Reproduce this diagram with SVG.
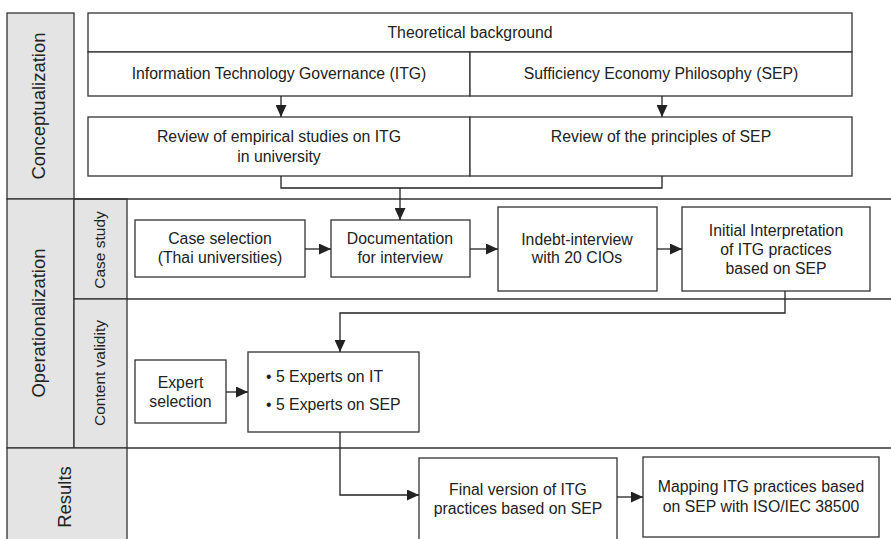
<svg xmlns="http://www.w3.org/2000/svg" width="891" height="539" viewBox="0 0 891 539">
<defs>
<marker id="ah" viewBox="0 0 12 11" markerUnits="userSpaceOnUse" markerWidth="12" markerHeight="11" refX="12" refY="5.5" orient="auto">
<path d="M0,0 L12,5.5 L0,11 z" fill="#222"/>
</marker>
</defs>
<style>
.bx{fill:#fff;stroke:#333;stroke-width:1.3}
.gr{fill:#e4e4e4;stroke:#333;stroke-width:1.3}
.ln{fill:none;stroke:#333;stroke-width:1.3}
.cn{fill:none;stroke:#222;stroke-width:1.3}
.t{font-family:"Liberation Sans",Arial,Helvetica,sans-serif;font-size:15.8px;fill:#222;text-anchor:middle}
.tl{font-family:"Liberation Sans",Arial,Helvetica,sans-serif;font-size:15.8px;fill:#222}
.lb{font-family:"Liberation Sans",Arial,Helvetica,sans-serif;font-size:18.5px;fill:#222;text-anchor:middle}
.ls{font-family:"Liberation Sans",Arial,Helvetica,sans-serif;font-size:15.5px;fill:#222;text-anchor:middle}
</style>
<rect width="891" height="539" fill="#fff"/>

<g id="lanes">
<rect class="gr" x="7" y="13" width="67" height="186"/>
<rect class="gr" x="7" y="199" width="67" height="249"/>
<rect class="gr" x="74" y="199" width="53" height="100"/>
<rect class="gr" x="74" y="299" width="53" height="149"/>
<rect class="gr" x="7" y="448" width="120" height="95"/>
<line class="ln" x1="74" y1="199" x2="891" y2="199"/>
<line class="ln" x1="127" y1="299" x2="891" y2="299"/>
<line class="ln" x1="127" y1="448" x2="891" y2="448"/>
<text class="lb" transform="translate(44.5,106) rotate(-90)">Conceptualization</text>
<text class="lb" transform="translate(44.5,323) rotate(-90)">Operationalization</text>
<text class="ls" transform="translate(105,250) rotate(-90)">Case study</text>
<text class="ls" transform="translate(105,373) rotate(-90)">Content validity</text>
<text class="lb" transform="translate(70.5,497) rotate(-90)">Results</text>
</g>

<g id="theoretical-background">
<rect class="bx" x="88" y="13" width="764" height="39"/>
<text class="t" x="470" y="38">Theoretical background</text>
</g>
<g id="itg">
<rect class="bx" x="88" y="52" width="382" height="44"/>
<text class="t" x="279" y="79">Information Technology Governance (ITG)</text>
</g>
<g id="sep">
<rect class="bx" x="470" y="52" width="382" height="44"/>
<text class="t" x="661" y="79">Sufficiency Economy Philosophy (SEP)</text>
</g>
<g id="review-itg">
<rect class="bx" x="88" y="117" width="382" height="59"/>
<text class="t" x="279" y="142">Review of empirical studies on ITG</text>
<text class="t" x="279" y="162">in university</text>
</g>
<g id="review-sep">
<rect class="bx" x="470" y="117" width="382" height="59"/>
<text class="t" x="661" y="142">Review of the principles of SEP</text>
</g>

<g id="case-selection">
<rect class="bx" x="135" y="220" width="170" height="57"/>
<text class="t" x="220" y="244">Case selection</text>
<text class="t" x="220" y="263">(Thai universities)</text>
</g>
<g id="documentation">
<rect class="bx" x="331" y="220" width="139" height="57"/>
<text class="t" x="400" y="244">Documentation</text>
<text class="t" x="400" y="263">for interview</text>
</g>
<g id="interview">
<rect class="bx" x="498" y="207" width="159" height="84"/>
<text class="t" x="577" y="245">Indebt-interview</text>
<text class="t" x="577" y="263">with 20 CIOs</text>
</g>
<g id="initial-interpretation">
<rect class="bx" x="682" y="207" width="188" height="84"/>
<text class="t" x="776" y="236">Initial Interpretation</text>
<text class="t" x="776" y="255">of ITG practices</text>
<text class="t" x="776" y="274">based on SEP</text>
</g>

<g id="expert-selection">
<rect class="bx" x="135" y="360" width="91" height="63"/>
<text class="t" x="180.5" y="388">Expert</text>
<text class="t" x="180.5" y="407">selection</text>
</g>
<g id="experts">
<rect class="bx" x="248" y="352" width="171" height="80"/>
<text class="tl" x="266" y="382">• 5 Experts on IT</text>
<text class="tl" x="266" y="410">• 5 Experts on SEP</text>
</g>

<g id="final-version">
<rect class="bx" x="419" y="458" width="198" height="90"/>
<text class="t" x="518" y="495">Final version of ITG</text>
<text class="t" x="518" y="514">practices based on SEP</text>
</g>
<g id="mapping">
<rect class="bx" x="643" y="457" width="236" height="80"/>
<text class="t" x="761" y="492">Mapping ITG practices based</text>
<text class="t" x="761" y="512">on SEP with ISO/IEC 38500</text>
</g>

<g id="connectors">
<path class="cn" d="M281,96 L281,117" marker-end="url(#ah)"/>
<path class="cn" d="M662,96 L662,117" marker-end="url(#ah)"/>
<path class="cn" d="M281,176 L281,188 L662,188 L662,176"/>
<path class="cn" d="M400,188 L400,220" marker-end="url(#ah)"/>
<path class="cn" d="M305,249 L331,249" marker-end="url(#ah)"/>
<path class="cn" d="M470,249 L498,249" marker-end="url(#ah)"/>
<path class="cn" d="M657,249 L682,249" marker-end="url(#ah)"/>
<path class="cn" d="M785,291 L785,313 L340,313 L340,352" marker-end="url(#ah)"/>
<path class="cn" d="M226,392 L248,392" marker-end="url(#ah)"/>
<path class="cn" d="M340,432 L340,495 L419,495" marker-end="url(#ah)"/>
<path class="cn" d="M617,497 L643,497" marker-end="url(#ah)"/>
</g>
</svg>
